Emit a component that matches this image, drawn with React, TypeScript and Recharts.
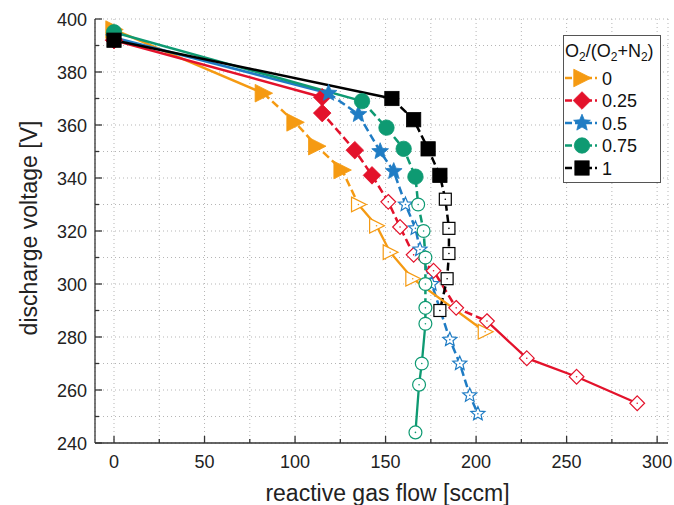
import React from 'react';
import { LineChart, Line, XAxis, YAxis, CartesianGrid, Legend, Label } from 'recharts';

// O2/(O2+N2) ratios (legend labels)
const ratioLabels = ['0', '0.25', '0.5', '0.75', '1'];
const seriesColors = ['#F59A12', '#E3122B', '#1F7CC4', '#0E9A72', '#000000'];
const markerKinds = ['triangle', 'diamond', 'star', 'circle', 'square'];

// reactive gas flow [sccm] and discharge voltage [V]; first 5 points are filled markers, rest hollow
const flow0 = [0, 82.5, 100, 112, 126, 135, 145, 152.5, 165, 205];
const volt0 = [396, 372, 361, 352, 343, 330, 322, 312, 302, 282];
const flow25 = [0, 115, 115, 133, 142.5, 151.5, 158, 165.5, 176.5, 189, 206, 228, 255.5, 289];
const volt25 = [392, 370.5, 364.5, 350.5, 341, 331, 321.5, 311, 305, 291, 286, 272, 265, 255];
const flow50 = [0, 118.5, 135, 147, 154.5, 161, 166.5, 169, 175.5, 185.5, 191, 196.5, 201];
const volt50 = [393, 372, 364, 350, 342.5, 330, 321, 313, 300, 279, 270, 258, 251];
const flow75 = [0, 137, 150.5, 160, 166.5, 168, 171, 172, 172, 172, 172, 170, 168.5, 166.5];
const volt75 = [395, 369, 359, 351, 340.5, 330, 320, 310, 300, 291, 285, 270, 262, 244];
const flow100 = [0, 153.5, 165.5, 173.5, 180, 183, 185, 185, 184, 180];
const volt100 = [392, 370, 362, 351, 341, 332, 321, 311.5, 302, 290];
const filledCounts = [5, 5, 5, 5, 5];
// index from which the connecting line is drawn solid again (after the dashed middle part)
const solidFromIndex = [5, 10, 99, 10, 99];

const xTicks = [0, 25, 50, 75, 100, 125, 150, 175, 200, 225, 250, 275, 300];
const yTicks = [240, 250, 260, 270, 280, 290, 300, 310, 320, 330, 340, 350, 360, 370, 380, 390, 400];

const allFlows = [flow0, flow25, flow50, flow75, flow100];
const allVolts = [volt0, volt25, volt50, volt75, volt100];

const FONT = '"Liberation Sans", Arial, Helvetica, sans-serif';
const AXIS = '#333';

const seriesData = allFlows.map((fl, s) => fl.map((x, i) => ({ x, y: allVolts[s][i], i })));

function Marker({ kind, cx, cy, color, filled }: any) {
  const k = filled ? 1.1 : 0.92;
  const fill = filled ? color : '#fff';
  const stroke = color;
  const sw = filled ? 0.8 : 1.2;
  let shape: any = null;
  if (kind === 'triangle') {
    const w = 7.5 * k, h = 8 * k;
    shape = <polygon points={`${cx - w},${cy - h} ${cx + w + 1},${cy} ${cx - w},${cy + h}`} fill={fill} stroke={stroke} strokeWidth={sw} />;
  } else if (kind === 'diamond') {
    const r = 8 * k;
    shape = <polygon points={`${cx},${cy - r} ${cx + r},${cy} ${cx},${cy + r} ${cx - r},${cy}`} fill={fill} stroke={stroke} strokeWidth={sw} />;
  } else if (kind === 'star') {
    const R = 8 * k, r = 3.6 * k;
    const pts: string[] = [];
    for (let j = 0; j < 10; j++) {
      const a = -Math.PI / 2 + (j * Math.PI) / 5;
      const rr = j % 2 === 0 ? R : r;
      pts.push(`${cx + rr * Math.cos(a)},${cy + rr * Math.sin(a)}`);
    }
    shape = <polygon points={pts.join(' ')} fill={fill} stroke={stroke} strokeWidth={sw} />;
  } else if (kind === 'circle') {
    shape = <circle cx={cx} cy={cy} r={7 * k} fill={fill} stroke={stroke} strokeWidth={sw} />;
  } else {
    const h = 6.5 * k;
    shape = <rect x={cx - h} y={cy - h} width={2 * h} height={2 * h} fill={fill} stroke={stroke} strokeWidth={sw} />;
  }
  return (
    <g>
      {shape}
      {!filled && <circle cx={cx} cy={cy} r={0.8} fill={color} />}
    </g>
  );
}

const XTickBottom = (props: any) => {
  const { x, y, payload } = props;
  const v = payload.value;
  const major = v % 50 === 0;
  return (
    <g>
      <line x1={x} x2={x} y1={y} y2={y - (major ? 7 : 4)} stroke={AXIS} strokeWidth={1.3} />
      {major && (
        <text x={x} y={y + 25} textAnchor="middle" fontSize={18} fill="#222" fontFamily={FONT}>{v}</text>
      )}
    </g>
  );
};
const XTickTop = (props: any) => {
  const { x, y, payload } = props;
  const major = payload.value % 50 === 0;
  return <line x1={x} x2={x} y1={y} y2={y + (major ? 7 : 4)} stroke={AXIS} strokeWidth={1.3} />;
};
const YTickLeft = (props: any) => {
  const { x, y, payload } = props;
  const v = payload.value;
  const major = v % 20 === 0;
  return (
    <g>
      <line x1={x} x2={x + (major ? 7 : 4)} y1={y} y2={y} stroke={AXIS} strokeWidth={1.3} />
      {major && (
        <text x={x - 8} y={y + 6.5} textAnchor="end" fontSize={18} fill="#222" fontFamily={FONT}>{v}</text>
      )}
    </g>
  );
};
const YTickRight = (props: any) => {
  const { x, y, payload } = props;
  const major = payload.value % 20 === 0;
  return <line x1={x} x2={x - (major ? 7 : 4)} y1={y} y2={y} stroke={AXIS} strokeWidth={1.3} />;
};

const LegendBox = () => (
  <svg width={98} height={148} style={{ display: 'block' }}>
    <rect x={0.5} y={0.5} width={97} height={147} fill="#fff" stroke="#555" strokeWidth={1} />
    <text x={2} y={22} fontSize={18} fontFamily={FONT} fill="#111">
      O<tspan fontSize={12} dy={4}>2</tspan>
      <tspan dy={-4}>/(O</tspan>
      <tspan fontSize={12} dy={4}>2</tspan>
      <tspan dy={-4}>+N</tspan>
      <tspan fontSize={12} dy={4}>2</tspan>
      <tspan dy={-4}>)</tspan>
    </text>
    {ratioLabels.map((lab, s) => {
      const cy = 43 + s * 22.5;
      return (
        <g key={lab}>
          <line x1={2} x2={34} y1={cy} y2={cy} stroke={seriesColors[s]} strokeWidth={2.5} strokeDasharray="7 3" />
          <Marker kind={markerKinds[s]} cx={19} cy={cy} color={seriesColors[s]} filled />
          <text x={39} y={cy + 6.5} fontSize={18} fontFamily={FONT} fill="#111">{lab}</text>
        </g>
      );
    })}
  </svg>
);

const noDot = false as const;

export default function App() {
  return (
    <div style={{ position: 'absolute', left: 0, top: 0, width: 674, height: 505, background: '#fff' }}>
      <LineChart width={674} height={505} margin={{ top: 19, right: 6, bottom: 0, left: 0 }}>
        <CartesianGrid stroke="#b5b5b5" strokeDasharray="1 3" strokeWidth={1} />
        <XAxis
          type="number"
          dataKey="x"
          domain={[-10.5, 306]}
          ticks={xTicks}
          interval={0}
          allowDataOverflow
          height={62}
          tickSize={0}
          tickMargin={0}
          tickLine={false}
          tick={<XTickBottom />}
          axisLine={{ stroke: AXIS, strokeWidth: 1.3 }}
        >
          <Label
            content={(p: any) => {
              const vb = p.viewBox;
              return (
                <text x={vb.x + vb.width / 2 + 6} y={501} textAnchor="middle" fontSize={23} fill="#222" fontFamily={FONT}>
                  reactive gas flow [sccm]
                </text>
              );
            }}
          />
        </XAxis>
        <XAxis
          xAxisId="top"
          orientation="top"
          type="number"
          dataKey="x"
          domain={[-10.5, 306]}
          ticks={xTicks}
          interval={0}
          allowDataOverflow
          height={0}
          tickSize={0}
          tickMargin={0}
          tickLine={false}
          tick={<XTickTop />}
          axisLine={{ stroke: AXIS, strokeWidth: 1.3 }}
        />
        <YAxis
          type="number"
          dataKey="y"
          domain={[240, 400]}
          ticks={yTicks}
          interval={0}
          allowDataOverflow
          width={95}
          tickSize={0}
          tickMargin={0}
          tickLine={false}
          tick={<YTickLeft />}
          axisLine={{ stroke: AXIS, strokeWidth: 1.3 }}
        >
          <Label
            content={(p: any) => {
              const vb = p.viewBox;
              const cy = vb.y + vb.height / 2 - 3;
              return (
                <text x={29} y={cy} transform={`rotate(-90, 29, ${cy})`} textAnchor="middle" dominantBaseline="central" fontSize={23} fill="#222" fontFamily={FONT}>
                  discharge voltage [V]
                </text>
              );
            }}
          />
        </YAxis>
        <YAxis
          yAxisId="right"
          orientation="right"
          type="number"
          dataKey="y"
          domain={[240, 400]}
          ticks={yTicks}
          interval={0}
          allowDataOverflow
          width={0}
          tickSize={0}
          tickMargin={0}
          tickLine={false}
          tick={<YTickRight />}
          axisLine={{ stroke: AXIS, strokeWidth: 1.3 }}
        />
        {/* first segment: solid */}
        {seriesData.map((pts, s) => (
          <Line
            key={`a${s}`}
            data={pts.slice(0, 2)}
            dataKey="y"
            type="linear"
            stroke={seriesColors[s]}
            strokeWidth={2.5}
            isAnimationActive={false}
            legendType="none"
            dot={noDot}
            activeDot={false}
          />
        ))}
        {/* middle part: dashed */}
        {seriesData.map((pts, s) => (
          <Line
            key={`b${s}`}
            data={pts.slice(1, solidFromIndex[s] + 1)}
            dataKey="y"
            type="linear"
            stroke={seriesColors[s]}
            strokeWidth={2.5}
            strokeDasharray="8 4"
            isAnimationActive={false}
            legendType="none"
            dot={noDot}
            activeDot={false}
          />
        ))}
        {/* tail part: solid */}
        {seriesData.map((pts, s) =>
          solidFromIndex[s] < pts.length - 1 ? (
            <Line
              key={`c${s}`}
              data={pts.slice(solidFromIndex[s])}
              dataKey="y"
              type="linear"
              stroke={seriesColors[s]}
              strokeWidth={2.3}
              isAnimationActive={false}
              legendType="none"
              dot={noDot}
              activeDot={false}
            />
          ) : null
        )}
        {/* markers */}
        {seriesData.map((pts, s) => (
          <Line
            key={`m${s}`}
            name={ratioLabels[s]}
            data={pts}
            dataKey="y"
            type="linear"
            stroke="none"
            isAnimationActive={false}
            dot={(p: any) => (
              <Marker
                key={`dm${s}-${p.index}`}
                kind={markerKinds[s]}
                cx={p.cx}
                cy={p.cy}
                color={seriesColors[s]}
                filled={p.payload.i < filledCounts[s]}
              />
            )}
            activeDot={false}
          />
        ))}
        <Legend
          layout="horizontal"
          verticalAlign="middle"
          align="center"
          content={() => <LegendBox />}
          wrapperStyle={{ position: 'absolute', left: 563, top: 35, width: 98, height: 148 }}
        />
      </LineChart>
    </div>
  );
}
